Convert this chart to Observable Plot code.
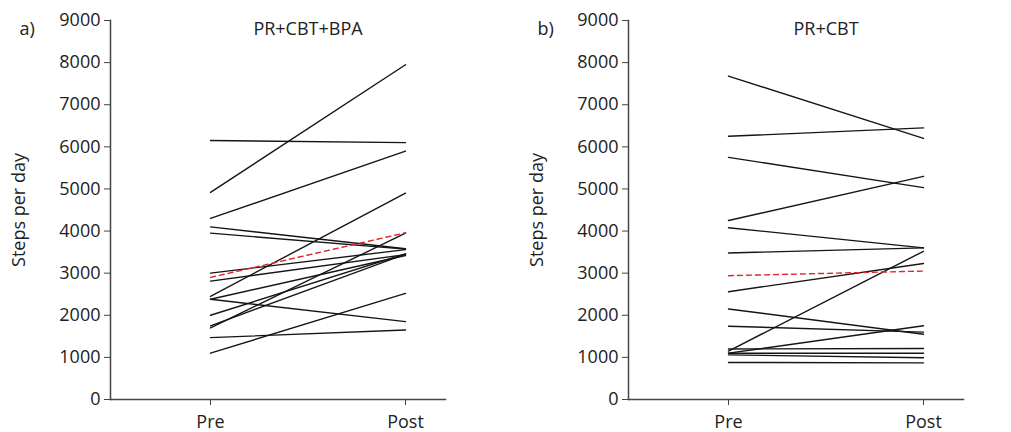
<!DOCTYPE html>
<html>
<head>
<meta charset="utf-8">
<script src="https://cdn.jsdelivr.net/npm/d3@7"></script>
<script src="https://cdn.jsdelivr.net/npm/@observablehq/plot@0.6"></script>
<style>
  html, body { margin: 0; padding: 0; background: white; }
  #wrap { display: flex; width: 1011px; height: 432px; }
  #wrap svg { display: block; }
</style>
</head>
<body>
<div id="wrap"></div>
<script>
// Panel a) PR+CBT+BPA
const timepoints = ["Pre", "Post"];
const yTicks = [0, 1000, 2000, 3000, 4000, 5000, 6000, 7000, 8000, 9000];
const preA  = [6150, 4920, 4300, 4100, 3950, 3000, 2810, 2450, 2380, 2380, 2000, 1700, 1750, 1470, 1100];
const postA = [6100, 7950, 5900, 3580, 3570, 3560, 3440, 4900, 1850, 3420, 3460, 3950, 3450, 1650, 2520];
const meanA = [2900, 3960];
// Panel b) PR+CBT
const preB  = [7680, 6250, 5750, 4250, 4080, 3480, 2560, 2150, 1740, 1200, 1150, 1100, 1100, 1060, 880];
const postB = [6200, 6450, 5030, 5300, 3600, 3600, 3230, 1550, 1600, 1210, 3520, 1750, 1100, 990, 870];
const meanB = [2940, 3050];

const titles = ["PR+CBT+BPA", "PR+CBT"];
const letters = ["a)", "b)"];
const yLabel = "Steps per day";

function panel(pre, post, mean, title, letter, width, x0) {
  const rows = pre.flatMap((v, i) => [
    {id: i, t: timepoints[0], v},
    {id: i, t: timepoints[1], v: post[i]}
  ]);
  const meanRows = [{t: timepoints[0], v: mean[0]}, {t: timepoints[1], v: mean[1]}];
  const axisColor = "#444";
  return Plot.plot({
    width, height: 432,
    marginLeft: x0, marginRight: width - (x0 + 335),
    marginTop: 20, marginBottom: 33,
    style: {fontFamily: "'Open Sans', sans-serif", fontSize: "18px", color: "#222", background: "white"},
    x: {type: "point", domain: timepoints, range: [x0 + 100, x0 + 295], padding: 0, align: 0.5},
    y: {domain: [0, 9000]},
    marks: [
      Plot.line(rows, {x: "t", y: "v", z: "id", stroke: "#151515", strokeWidth: 1.4}),
      Plot.line(meanRows, {x: "t", y: "v", stroke: "#e0262b", strokeWidth: 1.4, strokeDasharray: "5,4"}),
      Plot.frame({anchor: "left", stroke: axisColor, strokeWidth: 1.5}),
      Plot.frame({anchor: "bottom", stroke: axisColor, strokeWidth: 1.5}),
      Plot.axisY({ticks: yTicks, tickFormat: "d", tickSize: 6, tickPadding: 4, stroke: axisColor, fill: "#222",
                  label: yLabel, labelAnchor: "center", labelArrow: "none", labelOffset: 98}),
      Plot.axisX({tickSize: 6, tickPadding: 10, stroke: axisColor, fill: "#222", label: null}),
      Plot.text([title], {frameAnchor: "top", dx: 30, dy: 2, text: d => d, fontSize: 18, fill: "#222"}),
      Plot.text([letter], {frameAnchor: "top-left", dx: -91, dy: 2, text: d => d, fontSize: 18, fill: "#222"})
    ]
  });
}

const wrap = document.getElementById("wrap");
wrap.append(panel(preA, postA, meanA, titles[0], letters[0], 505, 110));
wrap.append(panel(preB, postB, meanB, titles[1], letters[1], 506, 123));
</script>
</body>
</html>
